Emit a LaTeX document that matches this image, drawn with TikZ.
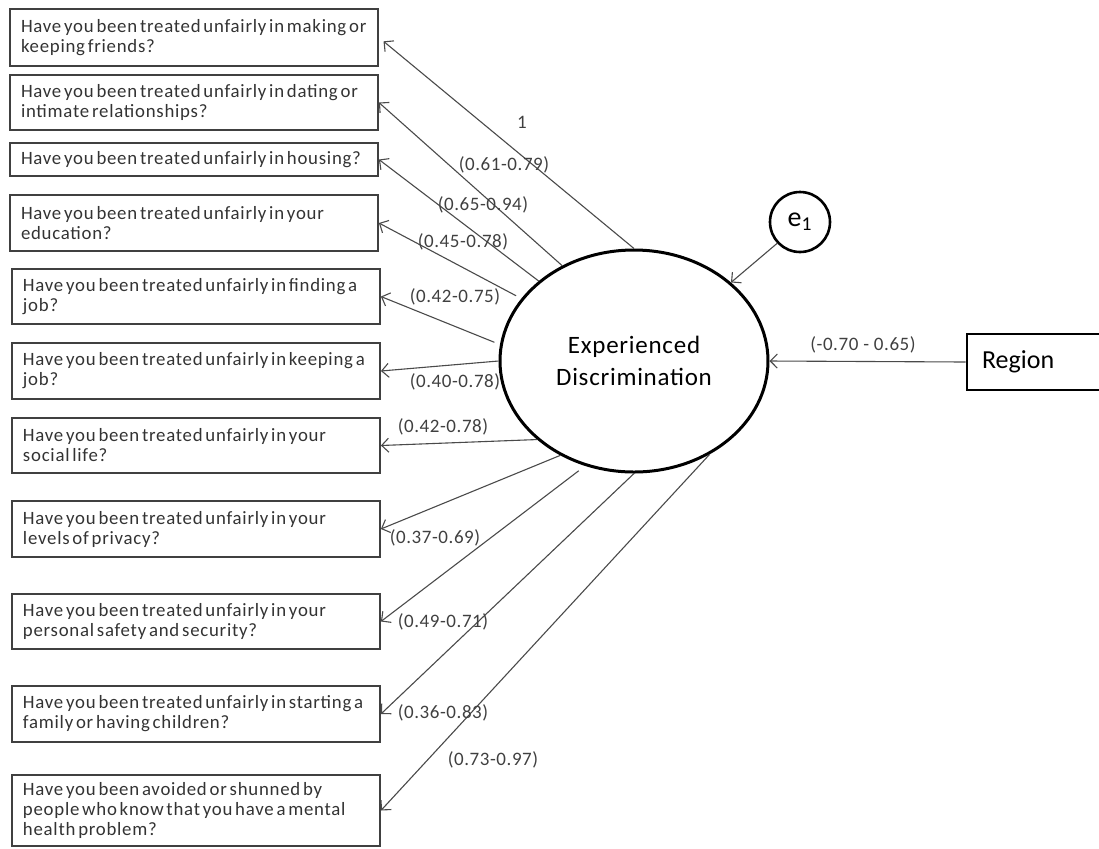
\documentclass[tikz,border=0pt]{standalone}
\usepackage{fontspec}
\setmainfont{Carlito}
\newfontfamily\boxfont{Carlito}[LetterSpace=4]
\newfontfamily\lblfont{Carlito}[LetterSpace=3]
\newcommand\qfont{\boxfont\fontsize{9.4}{10}\selectfont}
\newcommand\qspace{\spaceskip=1.4pt plus 0.6pt minus 0.2pt\xspaceskip=1.4pt\relax}
\usetikzlibrary{arrows.meta,shapes.geometric}
\definecolor{txtc}{HTML}{333333}
\definecolor{lblc}{HTML}{404040}
\definecolor{linec}{HTML}{4A4A4A}
\definecolor{boxc}{HTML}{404040}
\tikzset{
  qbox/.style={draw=boxc, line width=0.9pt, rectangle, minimum width=184pt, text width=173pt,
    inner xsep=5.5pt, inner ysep=0pt, align=left, text=txtc, font=\qfont,
    execute at begin node=\qspace},
  arr/.style={draw=linec, line width=0.55pt, -{Straight Barb[length=3.5pt,width=7pt]}},
  lbl/.style={text=lblc, font=\lblfont\fontsize{9.5}{11}\selectfont, inner sep=0pt},
}
\begin{document}
\begin{tikzpicture}[x=0.5pt,y=-0.5pt]
\useasboundingbox (0,0) rectangle (1099,848);
% question boxes
\node[qbox, minimum height=28.5pt] (b1) at (194,37.5) {Have you been treated unfairly in making or\\keeping friends?};
\node[qbox, minimum height=27.5pt] (b2) at (194,102.5) {Have you been treated unfairly in dating or\\intimate relationships?};
\node[qbox, minimum height=16.5pt] (b3) at (194,159.5) {Have you been treated unfairly in housing?};
\node[qbox, minimum height=28pt] (b4) at (194,223) {Have you been treated unfairly in your\\education?};
\node[qbox, minimum height=27.5pt] (b5) at (196,296.5) {Have you been treated unfairly in finding a\\job?};
\node[qbox, minimum height=28pt] (b6) at (196,371) {Have you been treated unfairly in keeping a\\job?};
\node[qbox, minimum height=27.5pt] (b7) at (196,445.5) {Have you been treated unfairly in your\\social life?};
\node[qbox, minimum height=28pt] (b8) at (196,529) {Have you been treated unfairly in your\\levels of privacy?};
\node[qbox, minimum height=27.5pt] (b9) at (196,621.5) {Have you been treated unfairly in your\\personal safety and security?};
\node[qbox, minimum height=28pt] (b10) at (196,714) {Have you been treated unfairly in starting a\\family or having children?};
\node[qbox, minimum height=35.5pt] (b11) at (196,810.5) {Have you been avoided or shunned by\\people who know that you have a mental\\health problem?};
% latent
\node[ellipse, draw=black, line width=1.5pt, minimum width=134pt, minimum height=111pt, inner sep=0pt,
  align=center, text=black, font=\lblfont\fontsize{12.5}{16}\selectfont] (ell) at (634,361) {Experienced\\Discrimination};
\node[circle, draw=black, line width=1.3pt, minimum size=30pt, inner sep=0pt, text=black,
  font=\fontsize{14}{16}\selectfont] (e1) at (800,222) {e\textsubscript{1}};
\node[rectangle, draw=black, line width=1.3pt, minimum width=68pt, minimum height=28pt, text width=53pt,
  inner xsep=7.5pt, align=left, text=black, font=\fontsize{13}{15}\selectfont] (reg) at (1035,362) {Region};
% connectors
\draw[arr, shorten >=3pt] (ell.90.5) -- (b1.east);
\draw[arr] (ell.127.5) -- (b2.east);
\draw[arr] (ell.140.6) -- (b3.east);
\draw[arr, shorten <=3pt] (ell.151.7) -- (b4.east);
\draw[arr, shorten <=3pt] (ell.173.4) -- (b5.east);
\draw[arr] (ell.180) -- (b6.east);
\draw[arr] (ell.219.5) -- (b7.east);
\draw[arr] (ell.232.4) -- (b8.east);
\draw[arr, shorten <=4pt] (ell.245.5) -- (b9.east);
\draw[arr] (ell.270) -- (b10.east);
\draw[arr] (ell.309) -- (b11.east);
\draw[arr] (e1.223) -- (ell.39.4);
\draw[arr] (reg.west) -- (ell.east);
% labels
\node[lbl] (l1) at (522,122) {1};
\node[lbl] (l2) at (504,165) {(0.61-0.79)};
\node[lbl] (l3) at (483,205) {(0.65-0.94)};
\node[lbl] (l4) at (463,242) {(0.45-0.78)};
\node[lbl] (l5) at (455,297) {(0.42-0.75)};
\node[lbl] (l6) at (455,382) {(0.40-0.78)};
\node[lbl] (l7) at (443,427) {(0.42-0.78)};
\node[lbl] (l8) at (435,538) {(0.37-0.69)};
\node[lbl] (l9) at (443,622) {(0.49-0.71)};
\node[lbl] (l10) at (443,713) {(0.36-0.83)};
\node[lbl] (l11) at (493,760) {(0.73-0.97)};
\node[lbl] (l12) at (863,345) {(-0.70 - 0.65)};
\end{tikzpicture}
\end{document}
